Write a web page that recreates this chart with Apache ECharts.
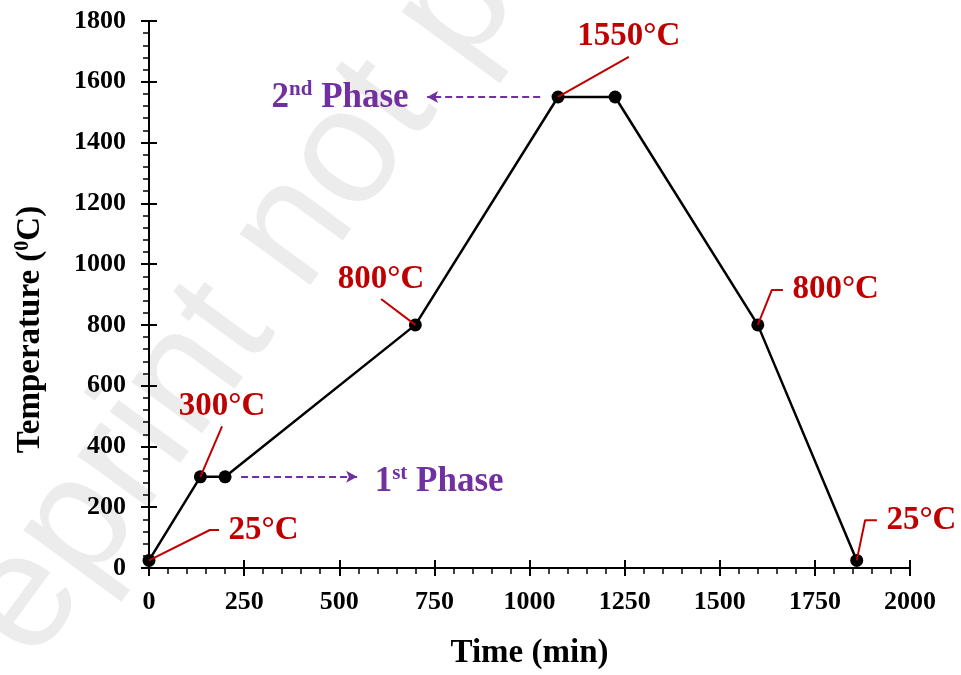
<!DOCTYPE html>
<html>
<head>
<meta charset="utf-8">
<script src="https://cdn.jsdelivr.net/npm/echarts@6/dist/echarts.min.js"></script>
<style>
    html, body { margin: 0; padding: 0; background: #fff; }
    #chart { width: 961px; height: 675px; }
</style>
</head>
<body>
<div id="chart"></div>
<script>
// 数据
const timeMin = [0, 135, 200, 700, 1075, 1225, 1600, 1860];
const tempC = [25, 300, 300, 800, 1550, 1550, 800, 25];

// 标注文字 + 引线（数据坐标）
const annoText = ["25°C", "300°C", "800°C", "1550°C", "800°C", "25°C"];
const annoPos = ["right", "top", "top", "top", "right", "right"];
const leaderLines = [
    [[0, 25], [160, 125], [184, 125]],
    [[135, 300], [192, 466]],
    [[700, 800], [610, 885]],
    [[1075, 1550], [1261, 1682]],
    [[1600, 800], [1637, 915], [1666, 915]],
    [[1860, 25], [1882, 157], [1913, 157]]
];

// 阶段箭头
const phase1Arrow = [[242, 300], [547, 300]];
const phase2Arrow = [[1028, 1550], [731, 1550]];

const serif = "Liberation Serif";
const red = "#C00000";
const purple = "#7030A0";
const clear = "rgba(0,0,0,0)";

const ecIns = echarts.init(document.getElementById("chart"));

// 引线
const leaderSeries = leaderLines.map((pts) => ({
    type: "line",
    data: pts,
    symbol: "none",
    silent: true,
    z: 3,
    lineStyle: { color: red, width: 2 }
}));

// 标注文字（挂在引线末端）
const annoSeries = leaderLines.map((pts, i) => ({
    type: "scatter",
    data: [pts[pts.length - 1]],
    symbolSize: 1,
    silent: true,
    itemStyle: { color: clear, opacity: 1 },
    label: {
        show: true,
        position: annoPos[i],
        distance: annoPos[i] === "top" ? 3 : 9,
        formatter: annoText[i],
        color: red,
        fontFamily: serif,
        fontWeight: "bold",
        fontSize: 33
    }
}));

const phaseRich = {
    a: { fontFamily: serif, fontWeight: "bold", fontSize: 35, color: purple },
    s: { fontFamily: serif, fontWeight: "bold", fontSize: 21, color: purple, padding: [0, 0, 16, 0] }
};

const arrowLine = (arrow) => ({
    silent: true,
    symbol: ["none", "arrow"],
    symbolSize: [9, 11],
    label: { show: false },
    lineStyle: { color: purple, width: 2, type: [7, 4] },
    data: [[{ coord: arrow[0] }, { coord: arrow[1] }]]
});

const tickFmt = (v) => String(v);

const option = {
    backgroundColor: "#fff",
    animation: false,
    graphic: [
        {
            type: "text",
            x: -101,
            y: 771,
            z: -10,
            rotation: 0.94,
            silent: true,
            style: {
                text: "Preprint not peer reviewed",
                fontFamily: "Liberation Sans",
                fontSize: 165,
                fill: "#ececec",
                textVerticalAlign: "middle"
            }
        }
    ],
    grid: { left: 149, right: 51, top: 21, bottom: 105 },
    xAxis: [
        {
            type: "value",
            min: 0,
            max: 2000,
            interval: 250,
            name: "Time (min)",
            nameLocation: "middle",
            nameGap: 69,
            nameTextStyle: { fontFamily: serif, fontWeight: "bold", fontSize: 33, color: "#000" },
            axisLine: { show: true, onZero: false, lineStyle: { color: "#000", width: 2 } },
            axisTick: { show: true, length: 8, lineStyle: { color: "#000", width: 2 } },
            minorTick: { show: true, splitNumber: 5, length: 6, lineStyle: { color: "#000", width: 1.5 } },
            axisLabel: { margin: 21, formatter: tickFmt, fontFamily: serif, fontWeight: "bold", fontSize: 26, color: "#000" },
            splitLine: { show: false }
        },
        {
            type: "value",
            min: 0,
            max: 2000,
            interval: 250,
            position: "bottom",
            axisLine: { show: false, onZero: false },
            axisTick: { show: true, inside: true, length: 8, lineStyle: { color: "#000", width: 2 } },
            axisLabel: { show: false },
            splitLine: { show: false }
        }
    ],
    yAxis: [
        {
            type: "value",
            min: 0,
            max: 1800,
            interval: 200,
            name: "{a|Temperature (}{s|0}{a|C)}",
            nameLocation: "middle",
            nameGap: 101,
            nameTextStyle: {
                padding: [0, 70, 0, 0],
                rich: {
                    a: { fontFamily: serif, fontWeight: "bold", fontSize: 33, color: "#000" },
                    s: { fontFamily: serif, fontWeight: "bold", fontSize: 20, color: "#000", padding: [0, 0, 15, 0] }
                }
            },
            axisLine: { show: true, onZero: false, lineStyle: { color: "#000", width: 2 } },
            axisTick: { show: true, length: 8, lineStyle: { color: "#000", width: 2 } },
            minorTick: { show: true, splitNumber: 5, length: 6, lineStyle: { color: "#000", width: 1.5 } },
            axisLabel: { margin: 23, formatter: tickFmt, fontFamily: serif, fontWeight: "bold", fontSize: 26, color: "#000" },
            splitLine: { show: false }
        },
        {
            type: "value",
            min: 0,
            max: 1800,
            interval: 200,
            position: "left",
            axisLine: { show: false, onZero: false },
            axisTick: { show: true, inside: true, length: 8, lineStyle: { color: "#000", width: 2 } },
            axisLabel: { show: false },
            splitLine: { show: false }
        }
    ],
    series: [
        {
            name: "profile",
            type: "line",
            data: timeMin.map((t, i) => [t, tempC[i]]),
            symbol: "circle",
            symbolSize: 13,
            z: 2,
            itemStyle: { color: "#000" },
            lineStyle: { color: "#000", width: 2.5 }
        },
        ...leaderSeries,
        ...annoSeries,
        {
            type: "scatter",
            data: [phase1Arrow[1]],
            symbolSize: 1,
            silent: true,
            itemStyle: { color: clear, opacity: 1 },
            label: {
                show: true,
                position: "right",
                distance: 17,
                offset: [0, 5],
                formatter: "{a|1}{s|st}{a| Phase}",
                rich: phaseRich
            },
            markLine: arrowLine(phase1Arrow)
        },
        {
            type: "scatter",
            data: [phase2Arrow[1]],
            symbolSize: 1,
            silent: true,
            itemStyle: { color: clear, opacity: 1 },
            label: {
                show: true,
                position: "left",
                distance: 18,
                offset: [0, 1],
                formatter: "{a|2}{s|nd}{a| Phase}",
                rich: phaseRich
            },
            markLine: arrowLine(phase2Arrow)
        }
    ]
};

ecIns.setOption(option, true);
window.addEventListener("resize", () => ecIns.resize());
</script>
</body>
</html>
